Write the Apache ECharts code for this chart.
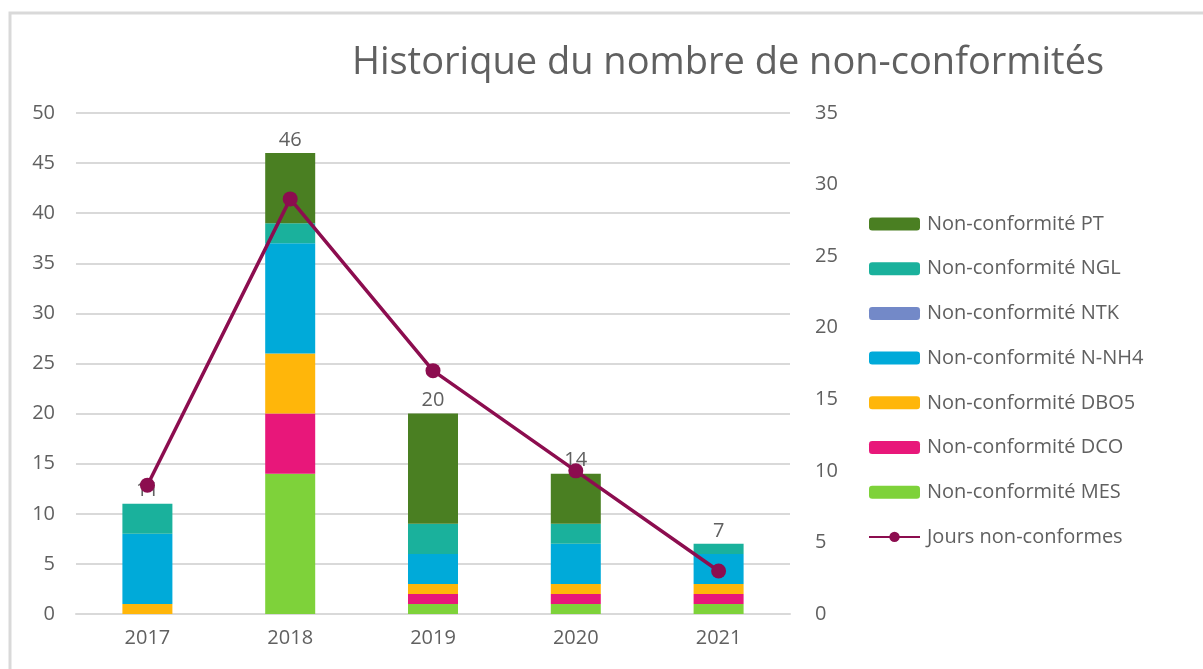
<!DOCTYPE html>
<html>
<head>
<meta charset="utf-8">
<script src="https://cdn.jsdelivr.net/npm/echarts@6/dist/echarts.min.js"></script>
<style>
  html, body { margin: 0; padding: 0; background: #fff; }
  #chart { width: 1203px; height: 669px; }
</style>
</head>
<body>
<div id="chart"></div>
<script>
// données
const years = ['2017', '2018', '2019', '2020', '2021'];
const ncMES  = [0, 14, 1, 1, 1];
const ncDCO  = [0, 6, 1, 1, 1];
const ncDBO5 = [1, 6, 1, 1, 1];
const ncNNH4 = [7, 11, 3, 4, 3];
const ncNTK  = [0, 0, 0, 0, 0];
const ncNGL  = [3, 2, 3, 2, 1];
const ncPT   = [0, 7, 11, 5, 0];
const joursNonConformes = [9, 29, 17, 10, 3];

const totals = years.map((_, i) =>
  ncMES[i] + ncDCO[i] + ncDBO5[i] + ncNNH4[i] + ncNTK[i] + ncNGL[i] + ncPT[i]);

const font = '"Open Sans", Lato, sans-serif';
const grey = '#606060';

const chart = echarts.init(document.getElementById('chart'));

const barSerie = (name, data, color) => ({
  name: name,
  type: 'bar',
  stack: 'nc',
  barWidth: 50,
  data: data,
  itemStyle: { color: color }
});

const option = {
  animation: false,
  textStyle: { fontFamily: font },
  graphic: [{
    type: 'rect',
    z: -10,
    shape: { x: 10, y: 13, width: 1200, height: 700 },
    style: { fill: 'none', stroke: '#d9d9d9', lineWidth: 3 }
  }],
  title: {
    text: 'Historique du nombre de non-conformités',
    left: 723,
    textAlign: 'center',
    top: 39,
    textStyle: { fontFamily: font, fontSize: 38, fontWeight: 'normal', color: grey }
  },
  grid: { left: 76, right: 413, top: 113, bottom: 55 },
  legend: {
    orient: 'vertical',
    left: 868,
    top: 214,
    padding: 0,
    itemWidth: 51,
    itemHeight: 13,
    itemGap: 24.7,
    data: [
      'Non-conformité PT', 'Non-conformité NGL', 'Non-conformité NTK',
      'Non-conformité N-NH4', 'Non-conformité DBO5', 'Non-conformité DCO',
      'Non-conformité MES', 'Jours non-conformes'
    ],
    textStyle: { fontFamily: font, fontSize: 20, color: grey, lineHeight: 20, padding: [0, 0, 0, 2] }
  },
  xAxis: {
    type: 'category',
    data: years,
    axisLine: { lineStyle: { color: '#d9d9d9', width: 2 } },
    axisTick: { show: false },
    axisLabel: { color: grey, fontSize: 20, margin: 14 }
  },
  yAxis: [{
    type: 'value',
    min: 0, max: 50, interval: 5,
    axisLabel: { color: grey, fontSize: 20, margin: 21 },
    splitLine: { lineStyle: { color: '#d9d9d9', width: 2 } }
  }, {
    type: 'value',
    min: 0, max: 35, interval: 5,
    axisLabel: { color: grey, fontSize: 20, margin: 25 },
    splitLine: { show: false }
  }],
  series: [
    barSerie('Non-conformité MES', ncMES, '#7ed23a'),
    barSerie('Non-conformité DCO', ncDCO, '#e8177a'),
    barSerie('Non-conformité DBO5', ncDBO5, '#ffb60a'),
    barSerie('Non-conformité N-NH4', ncNNH4, '#00aad9'),
    barSerie('Non-conformité NTK', ncNTK, '#7389c8'),
    barSerie('Non-conformité NGL', ncNGL, '#1ab19c'),
    barSerie('Non-conformité PT', ncPT, '#4a7f22'),
    {
      name: 'total',
      type: 'bar',
      stack: 'nc',
      barWidth: 50,
      data: years.map(() => 0),
      itemStyle: { color: 'transparent' },
      label: {
        show: true,
        position: 'top',
        distance: 3,
        color: grey,
        fontSize: 20,
        fontFamily: font,
        formatter: (p) => totals[p.dataIndex]
      }
    },
    {
      name: 'Jours non-conformes',
      type: 'line',
      yAxisIndex: 1,
      data: joursNonConformes,
      symbol: 'circle',
      symbolSize: 15,
      lineStyle: { color: '#8c0d4f', width: 3.5 },
      itemStyle: { color: '#8c0d4f' },
      z: 5
    }
  ]
};

chart.setOption(option);
</script>
</body>
</html>
